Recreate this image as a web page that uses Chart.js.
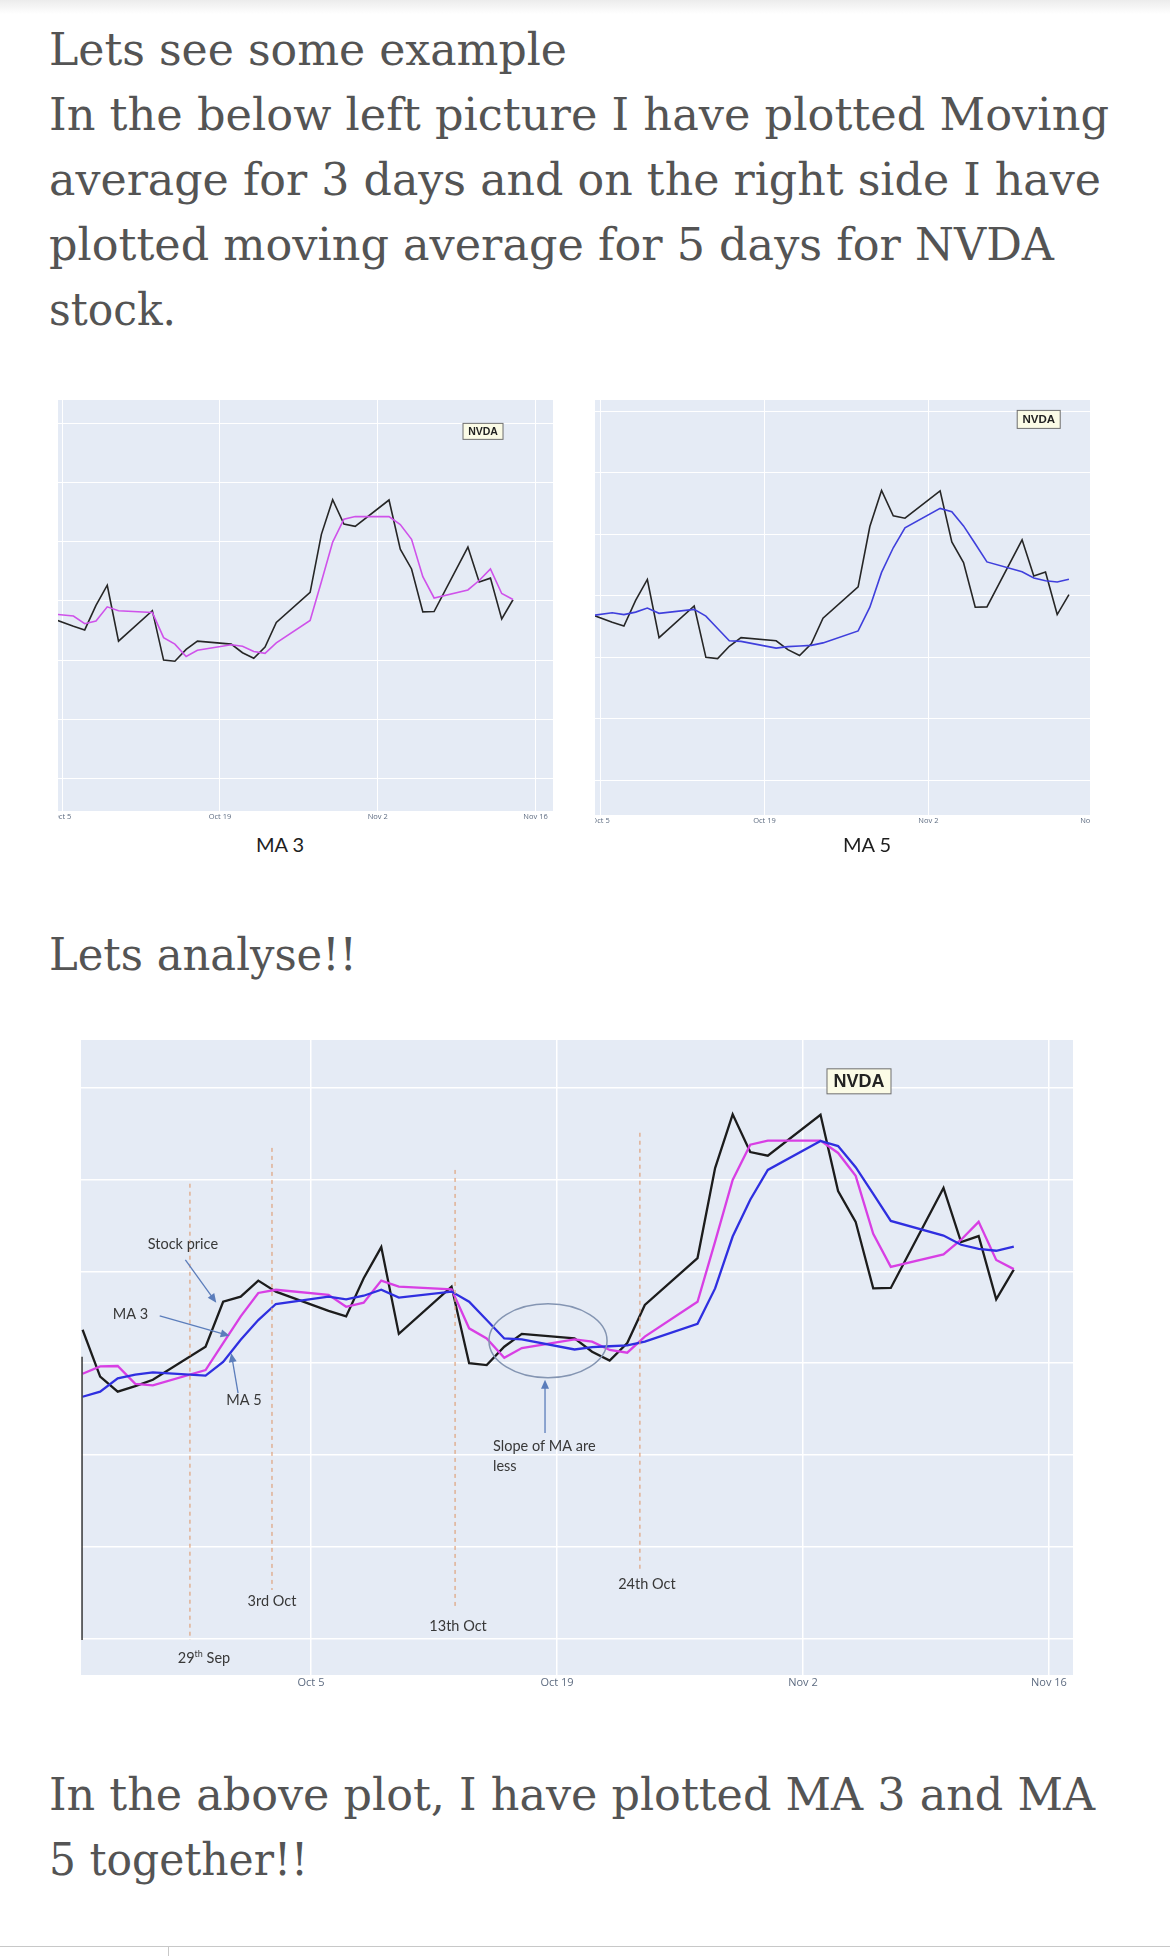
<!DOCTYPE html>
<html>
<head>
<meta charset="utf-8">
<script src="https://cdn.jsdelivr.net/npm/chart.js@4.4.1/dist/chart.umd.min.js"></script>
<style>
  body { margin: 0; background: #fff; }
  #page { position: relative; width: 1170px; height: 1956px; overflow: hidden; background: #fff; }
  #shade { position: absolute; left: 0; top: 0; width: 1170px; height: 14px; background: linear-gradient(#ececec, #fff); }
  .txt { position: absolute; left: 49px; font-family: "DejaVu Serif", serif; font-size: 44px; line-height: 44px;
         color: #545454; white-space: nowrap; transform-origin: 0 0; }
  .cap { position: absolute; font-family: Lato, sans-serif; font-size: 20px; line-height: 20px; color: #1e1e1e;
         transform: translateX(-50%); white-space: nowrap; }
  canvas { position: absolute; }
  #rule { position: absolute; left: 0; top: 1946px; width: 1170px; height: 1px; background: #c8c8c8; }
  #tab { position: absolute; left: 168px; top: 1946px; width: 1px; height: 10px; background: #c8c8c8; }
</style>
</head>
<body>
<div id="page">
  <div id="shade"></div>
  <div class="txt" style="top:28px" data-w="518">Lets see some example</div>
  <div class="txt" style="top:93px" data-w="1060">In the below left picture I have plotted Moving</div>
  <div class="txt" style="top:158px" data-w="1052">average for 3 days and on the right side I have</div>
  <div class="txt" style="top:223px" data-w="1005">plotted moving average for 5 days for NVDA</div>
  <div class="txt" style="top:288px" data-w="127">stock.</div>

  <canvas id="ma3Chart" width="495" height="430" style="left:58px; top:400px"></canvas>
  <canvas id="ma5Chart" width="495" height="434" style="left:595px; top:400px"></canvas>
  <div class="cap" style="left:280px; top:834px">MA 3</div>
  <div class="cap" style="left:867px; top:834px">MA 5</div>

  <div class="txt" style="top:933px" data-w="308">Lets analyse!!</div>

  <canvas id="bothChart" width="992" height="660" style="left:81px; top:1040px"></canvas>

  <div class="txt" style="top:1773px" data-w="1046">In the above plot, I have plotted MA 3 and MA</div>
  <div class="txt" style="top:1838px" data-w="259">5 together!!</div>

  <div id="rule"></div>
  <div id="tab"></div>
</div>

<script>
// NVDA closes with 3 and 5 day moving averages
var dates = [
  '2020-09-22', '2020-09-23', '2020-09-24', '2020-09-25', '2020-09-26',
  '2020-09-29', '2020-09-30', '2020-10-01', '2020-10-02', '2020-10-03',
  '2020-10-06', '2020-10-07', '2020-10-08', '2020-10-09', '2020-10-10',
  '2020-10-13', '2020-10-14', '2020-10-15', '2020-10-16', '2020-10-17',
  '2020-10-20', '2020-10-21', '2020-10-22', '2020-10-23', '2020-10-24',
  '2020-10-27', '2020-10-28', '2020-10-29', '2020-10-30', '2020-10-31',
  '2020-11-03', '2020-11-04', '2020-11-05', '2020-11-06', '2020-11-07',
  '2020-11-10', '2020-11-11', '2020-11-12', '2020-11-13', '2020-11-14'
];
var price = [
  507.3, 497.1, 493.8, 495.0, 496.4,
  503.6, 513.4, 514.5, 518.0, 515.6,
  511.4, 510.2, 518.5, 525.3, 506.4,
  516.7, 500.0, 499.6, 503.6, 506.4,
  505.4, 502.5, 500.6, 504.4, 512.7,
  522.9, 542.5, 554.2, 546.0, 545.2,
  554.1, 537.5, 530.8, 516.3, 516.4,
  538.2, 526.4, 527.7, 513.9, 520.4
];
var ma3 = [
  497.7, 499.3, 499.4, 495.5, 495.2,
  498.5, 504.4, 510.2, 515.3, 516.0,
  514.9, 512.3, 513.2, 518.0, 516.7,
  516.1, 507.6, 505.4, 501.2, 503.3,
  505.2, 504.7, 502.9, 502.3, 505.8,
  513.4, 526.5, 539.9, 547.6, 548.5,
  548.5, 545.8, 540.8, 528.2, 521.0,
  523.7, 526.9, 530.8, 522.5, 520.5
];
var ma5 = [
  492.7, 493.8, 496.7, 497.5, 498.0,
  497.3, 500.3, 505.1, 509.4, 512.9,
  514.5, 513.9, 514.7, 516.0, 514.3,
  515.6, 513.4, 509.4, 505.4, 505.2,
  503.0, 503.5, 503.7, 503.9, 504.7,
  508.6, 516.3, 527.6, 535.6, 542.1,
  548.4, 547.3, 542.7, 536.9, 531.0,
  527.8, 525.8, 524.9, 524.5, 525.4
];
// x axis is days counted from Oct 5
var tickDays = [-14, 0, 14, 28, 42];
var tickLabels = ['Sep 21', 'Oct 5', 'Oct 19', 'Nov 2', 'Nov 16'];
var gridValues = [440, 460, 480, 500, 520, 540, 560, 580];

var day0 = Date.parse('2020-10-05');
function points(values) {
    return values.map(function (v, i) {
        return { x: (Date.parse(dates[i]) - day0) / 864e5, y: v };
    });
}

// fit each text line to the measured width of the original
document.querySelectorAll('.txt').forEach(function (el) {
    var w = el.getBoundingClientRect().width;
    el.style.transform = 'scaleX(' + (el.dataset.w / w) + ')';
});

var plotBg = {
    id: 'plotBg',
    beforeDraw: function (chart) {
        var a = chart.chartArea, c = chart.ctx;
        c.save();
        c.fillStyle = '#e5ebf5';
        c.fillRect(a.left, a.top, a.right - a.left, a.bottom - a.top);
        c.restore();
    }
};

function notes(items) {
    return {
        id: 'notes',
        afterDatasetsDraw: function (chart) {
            var c = chart.ctx, sx = chart.scales.x, sy = chart.scales.y;
            function X(v) { return sx.getPixelForValue(v); }
            function Y(v) { return sy.getPixelForValue(v); }
            c.save();
            items.forEach(function (n) {
                if (n.type === 'vline') {
                    c.strokeStyle = n.color;
                    c.lineWidth = n.width || 1.2;
                    c.setLineDash(n.dash || []);
                    c.beginPath();
                    c.moveTo(X(n.x), Y(n.y1));
                    c.lineTo(X(n.x), Y(n.y2));
                    c.stroke();
                    c.setLineDash([]);
                } else if (n.type === 'arrow') {
                    var x1 = X(n.x1), y1 = Y(n.y1), x2 = X(n.x2), y2 = Y(n.y2);
                    var a = Math.atan2(y2 - y1, x2 - x1), ca = Math.cos(a), sa = Math.sin(a);
                    c.strokeStyle = c.fillStyle = '#5b7dbb';
                    c.lineWidth = 1.3;
                    c.beginPath();
                    c.moveTo(x1, y1);
                    c.lineTo(x2 - 6 * ca, y2 - 6 * sa);
                    c.stroke();
                    c.beginPath();
                    c.moveTo(x2, y2);
                    c.lineTo(x2 - 9 * ca + 4 * sa, y2 - 9 * sa - 4 * ca);
                    c.lineTo(x2 - 9 * ca - 4 * sa, y2 - 9 * sa + 4 * ca);
                    c.closePath();
                    c.fill();
                } else if (n.type === 'ellipse') {
                    c.strokeStyle = '#8495b2';
                    c.lineWidth = 1.5;
                    c.beginPath();
                    c.ellipse(X(n.x), Y(n.y), Math.abs(X(n.x + n.rx) - X(n.x)),
                              Math.abs(Y(n.y + n.ry) - Y(n.y)), 0, 0, 2 * Math.PI);
                    c.stroke();
                } else if (n.type === 'text') {
                    var parts = n.parts || [[n.text, '']];
                    var size = n.size || 14.5;
                    var total = 0;
                    parts.forEach(function (p) {
                        c.font = (p[1] === 'sup' ? size * 0.62 : size) + 'px Lato';
                        total += c.measureText(p[0]).width;
                    });
                    var x = n.align === 'left' ? X(n.x) : X(n.x) - total / 2;
                    c.fillStyle = '#383838';
                    c.textBaseline = 'middle';
                    parts.forEach(function (p) {
                        var sup = p[1] === 'sup';
                        c.font = (sup ? size * 0.62 : size) + 'px Lato';
                        c.fillText(p[0], x, Y(n.y) - (sup ? size * 0.3 : 0));
                        x += c.measureText(p[0]).width;
                    });
                } else if (n.type === 'box') {
                    var cx = X(n.x), cy = Y(n.y);
                    c.fillStyle = '#fbfbe6';
                    c.strokeStyle = '#6f6f6f';
                    c.lineWidth = 1;
                    c.fillRect(cx - n.w / 2, cy - n.h / 2, n.w, n.h);
                    c.strokeRect(cx - n.w / 2, cy - n.h / 2, n.w, n.h);
                    c.fillStyle = '#222';
                    c.font = 'bold ' + n.size + 'px "Liberation Sans", Arial';
                    c.textAlign = 'center';
                    c.textBaseline = 'middle';
                    c.fillText(n.text, cx, cy + 0.5);
                    c.textAlign = 'left';
                }
            });
            c.restore();
        }
    };
}

function makeChart(id, o) {
    var ctx = document.getElementById(id).getContext('2d');
    return new Chart(ctx, {
        type: 'line',
        data: {
            datasets: o.series.map(function (s) {
                return {
                    data: points(s.values),
                    borderColor: s.color,
                    borderWidth: o.lineWidth,
                    pointRadius: 0,
                    tension: 0,
                    fill: false
                };
            })
        },
        options: {
            responsive: false,
            animation: false,
            layout: { padding: 0 },
            plugins: { legend: { display: false }, tooltip: { enabled: false } },
            scales: {
                x: {
                    type: 'linear',
                    min: o.xMin, max: o.xMax,
                    border: { display: false },
                    grid: { color: '#ffffff', lineWidth: o.gridWidth, drawTicks: false },
                    ticks: {
                        autoSkip: false, maxRotation: 0, minRotation: 0, padding: 1,
                        color: '#5d6b80',
                        font: { family: '"Open Sans", sans-serif', size: o.tickSize },
                        callback: function (v) { return tickLabels[tickDays.indexOf(v)]; }
                    },
                    afterBuildTicks: function (s) {
                        s.ticks = tickDays.map(function (v) { return { value: v }; });
                    },
                    afterFit: function (s) {
                        s.paddingLeft = 0;
                        s.paddingRight = 0;
                        s.height = o.axisHeight;
                    }
                },
                y: {
                    min: o.yMin, max: o.yMax,
                    border: { display: false },
                    grid: { color: '#ffffff', lineWidth: o.gridWidth, drawTicks: false },
                    ticks: { display: false },
                    afterBuildTicks: function (s) {
                        s.ticks = gridValues.filter(function (v) { return v > o.yMin && v < o.yMax; })
                            .map(function (v) { return { value: v }; });
                    },
                    afterFit: function (s) {
                        s.width = 0;
                        s.paddingTop = 0;
                        s.paddingBottom = 0;
                    }
                }
            }
        },
        plugins: [plotBg, notes(o.notes)]
    });
}

makeChart('ma3Chart', {
    series: [
        { values: ma3, color: '#cf52ea' },
        { values: price, color: '#262626' }
    ],
    lineWidth: 1.6, gridWidth: 1, tickSize: 7.5, axisHeight: 19,
    xMin: -0.37, xMax: 43.55, yMin: 449.0, yMax: 587.9,
    notes: [{ type: 'box', x: 37.34, y: 577.3, w: 40, h: 16, size: 10.5, text: 'NVDA' }]
});

makeChart('ma5Chart', {
    series: [
        { values: ma5, color: '#3f3fdc' },
        { values: price, color: '#262626' }
    ],
    lineWidth: 1.6, gridWidth: 1, tickSize: 7.5, axisHeight: 19,
    xMin: -0.47, xMax: 41.8, yMin: 448.8, yMax: 583.6,
    notes: [{ type: 'box', x: 37.42, y: 577.3, w: 43, h: 18, size: 11.5, text: 'NVDA' }]
});

var dash = [4, 4], tan = '#dfa27c';
makeChart('bothChart', {
    series: [
        { values: ma5, color: '#2f2fe0' },
        { values: ma3, color: '#d83fe4' },
        { values: price, color: '#1c1c1c' }
    ],
    lineWidth: 2.3, gridWidth: 1.5, tickSize: 11, axisHeight: 25,
    xMin: -13.09, xMax: 43.37, yMin: 432.1, yMax: 570.4,
    notes: [
        { type: 'vline', x: -13.03, y1: 501.4, y2: 439.7, color: '#3a3a3a', width: 1.5 },
        { type: 'vline', x: -6.89, y1: 539.1, y2: 439.7, color: tan, dash: dash },
        { type: 'vline', x: -2.22, y1: 546.9, y2: 450.6, color: tan, dash: dash },
        { type: 'vline', x: 8.20, y1: 542.1, y2: 446.3, color: tan, dash: dash },
        { type: 'vline', x: 18.72, y1: 550.2, y2: 454.4, color: tan, dash: dash },
        { type: 'text', x: -6.09, y: 435.8, parts: [['29', ''], ['th', 'sup'], [' Sep', '']] },
        { type: 'text', x: -2.22, y: 448.2, text: '3rd Oct' },
        { type: 'text', x: 8.37, y: 442.6, text: '13th Oct' },
        { type: 'text', x: 19.12, y: 451.9, text: '24th Oct' },
        { type: 'text', x: -7.29, y: 526.0, text: 'Stock price' },
        { type: 'text', x: -10.27, y: 510.7, text: 'MA 3' },
        { type: 'text', x: -3.82, y: 491.9, text: 'MA 5' },
        { type: 'text', x: 10.36, y: 481.8, text: 'Slope of MA are', align: 'left' },
        { type: 'text', x: 10.36, y: 477.6, text: 'less', align: 'left' },
        { type: 'arrow', x1: -7.15, y1: 522.5, x2: -5.39, y2: 513.2 },
        { type: 'arrow', x1: -8.61, y1: 510.3, x2: -4.63, y2: 505.96 },
        { type: 'arrow', x1: -4.15, y1: 493.5, x2: -4.54, y2: 502.2 },
        { type: 'arrow', x1: 13.32, y1: 484.8, x2: 13.32, y2: 496.4 },
        { type: 'ellipse', x: 13.49, y: 504.9, rx: 3.36, ry: 8.06 },
        { type: 'box', x: 31.19, y: 561.4, w: 64, h: 25, size: 18, text: 'NVDA' }
    ]
});
</script>
</body>
</html>
